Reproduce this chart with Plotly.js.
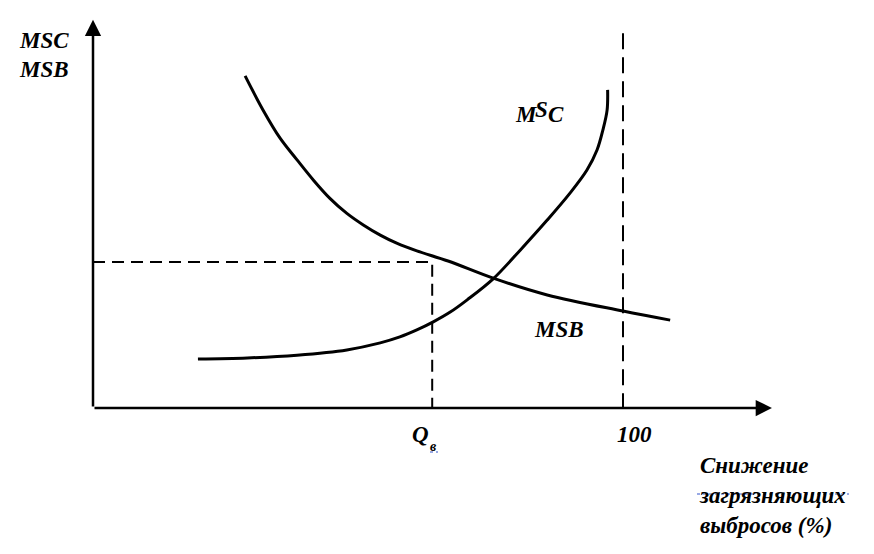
<!DOCTYPE html>
<html>
<head>
<meta charset="utf-8">
<script src="https://cdn.plot.ly/plotly-3.0.1.min.js"></script>
<style>html,body{margin:0;padding:0;background:#fff;}#chart{width:874px;height:554px;}</style>
</head>
<body>
<div id="chart"></div>
<script>
// ---- data (abatement %, marginal value in arbitrary units) ----
const msbQ = [28.7, 32.1, 35.3, 38.5, 41.6, 44.7, 47.9, 51.0, 54.2, 57.3, 61.1, 67.0, 75.5, 85.7, 100.0, 108.9];
const msbP = [94.9, 85.1, 77.1, 70.9, 65.1, 59.9, 55.6, 52.3, 49.4, 47.1, 44.9, 42.0, 37.1, 32.3, 27.7, 25.1];
const mscQ = [19.8, 29.1, 38.5, 47.9, 54.2, 57.9, 61.1, 64.2, 67.4, 70.6, 75.5, 80.6, 85.7, 90.0, 93.2, 95.1, 96.2, 97.0, 97.1];
const mscP = [14.0, 14.3, 15.1, 16.6, 18.6, 20.3, 22.3, 24.6, 27.4, 30.9, 36.9, 45.1, 53.7, 61.4, 68.0, 73.7, 79.4, 85.1, 90.9];
const eqQ = 64.0;      // Q_в
const eqP = 41.7;
const maxQ = 100;      // 100 %
const maxLineTop = 107.1;
const axisXEnd = 128.1;
const axisYEnd = 110.9;
const yAxisTitle = ['MSC', 'MSB'];
const xAxisTitle = ['Снижение', 'загрязняющих', 'выбросов (%)'];
const tickLabels = ['Q', 'в', '100'];

const fA = (s) => ({family: 'Liberation Serif', size: s, color: '#000', weight: 'bold', style: 'italic'});

const traces = [
  {x: [0, eqQ, eqQ], y: [eqP, eqP, 0], mode: 'lines', line: {color: '#000', width: 2, dash: '12px,7px'}, hoverinfo: 'skip'},
  {x: [maxQ, maxQ], y: [maxLineTop, 0], mode: 'lines', line: {color: '#000', width: 2, dash: '16px,8px'}, hoverinfo: 'skip'},
  {x: msbQ, y: msbP, mode: 'lines', line: {color: '#000', width: 3, shape: 'spline', smoothing: 1}, hoverinfo: 'skip'},
  {x: mscQ, y: mscP, mode: 'lines', line: {color: '#000', width: 3, shape: 'spline', smoothing: 1}, hoverinfo: 'skip'}
];

const annotations = [
  {x: axisXEnd, y: 0, ax: 0, ay: 0, xref: 'x', yref: 'y', axref: 'x', ayref: 'y', text: '', showarrow: true, arrowhead: 2, arrowsize: 1.3, arrowwidth: 2.5, arrowcolor: '#000', standoff: 0},
  {x: 0, y: axisYEnd, ax: 0, ay: 0, xref: 'x', yref: 'y', axref: 'x', ayref: 'y', text: '', showarrow: true, arrowhead: 2, arrowsize: 1.3, arrowwidth: 2.5, arrowcolor: '#000', standoff: 0},
  {x: -14.3, y: 104.9, xref: 'x', yref: 'y', xanchor: 'left', yanchor: 'middle', text: yAxisTitle[0], showarrow: false, font: fA(23)},
  {x: -14.3, y: 96.6, xref: 'x', yref: 'y', xanchor: 'left', yanchor: 'middle', text: yAxisTitle[1], showarrow: false, font: fA(23)},
  {x: 113.9, y: -12.3, xref: 'x', yref: 'y', xanchor: 'left', yanchor: 'top', align: 'left', text: xAxisTitle.join('<br>'), showarrow: false, font: fA(23)},
  {x: 61.7, y: -7.7, xref: 'x', yref: 'y', xanchor: 'center', yanchor: 'middle', text: tickLabels[0], showarrow: false, font: fA(23)},
  {x: 64.3, y: -10.9, xref: 'x', yref: 'y', xanchor: 'center', yanchor: 'middle', text: tickLabels[1], showarrow: false, font: fA(14)},
  {x: 102.1, y: -7.7, xref: 'x', yref: 'y', xanchor: 'center', yanchor: 'middle', text: tickLabels[2], showarrow: false, font: fA(23)},
  {x: 81.7, y: 84.0, xref: 'x', yref: 'y', xanchor: 'center', yanchor: 'middle', text: 'M', showarrow: false, font: fA(23)},
  {x: 84.6, y: 85.4, xref: 'x', yref: 'y', xanchor: 'center', yanchor: 'middle', text: 'S', showarrow: false, font: fA(23)},
  {x: 87.4, y: 84.0, xref: 'x', yref: 'y', xanchor: 'center', yanchor: 'middle', text: 'C', showarrow: false, font: fA(23)},
  {x: 87.9, y: 22.3, xref: 'x', yref: 'y', xanchor: 'center', yanchor: 'middle', text: 'MSB', showarrow: false, font: fA(23)}
];

const shapes = [
  {type: 'line', xref: 'paper', yref: 'paper', x0: 697/874, x1: 849/874, y0: 1 - 494/554, y1: 1 - 494/554, line: {color: '#3355cc', width: 1.2, dash: 'dot'}},
  {type: 'line', xref: 'paper', yref: 'paper', x0: 430/874, x1: 438/874, y0: 1 - 452/554, y1: 1 - 452/554, line: {color: '#3355cc', width: 1.2, dash: 'dot'}}
];

const layout = {
  width: 874, height: 554,
  margin: {l: 0, r: 0, t: 0, b: 0},
  paper_bgcolor: '#fff', plot_bgcolor: '#fff',
  showlegend: false,
  xaxis: {range: [-93/5.3, (874-93)/5.3], visible: false, fixedrange: true},
  yaxis: {range: [(408-554)/3.5, 408/3.5], visible: false, fixedrange: true},
  annotations: annotations,
  shapes: shapes
};

function serifify() {
  document.querySelectorAll('#chart .annotation-text, #chart .annotation-text tspan').forEach(el => {
    el.style.fontFamily = '"Liberation Serif", "Times New Roman", serif';
    el.style.fontWeight = 'bold';
    el.style.fontStyle = 'italic';
  });
}

Plotly.newPlot('chart', traces, layout, {staticPlot: true}).then(serifify);
</script>
</body>
</html>
